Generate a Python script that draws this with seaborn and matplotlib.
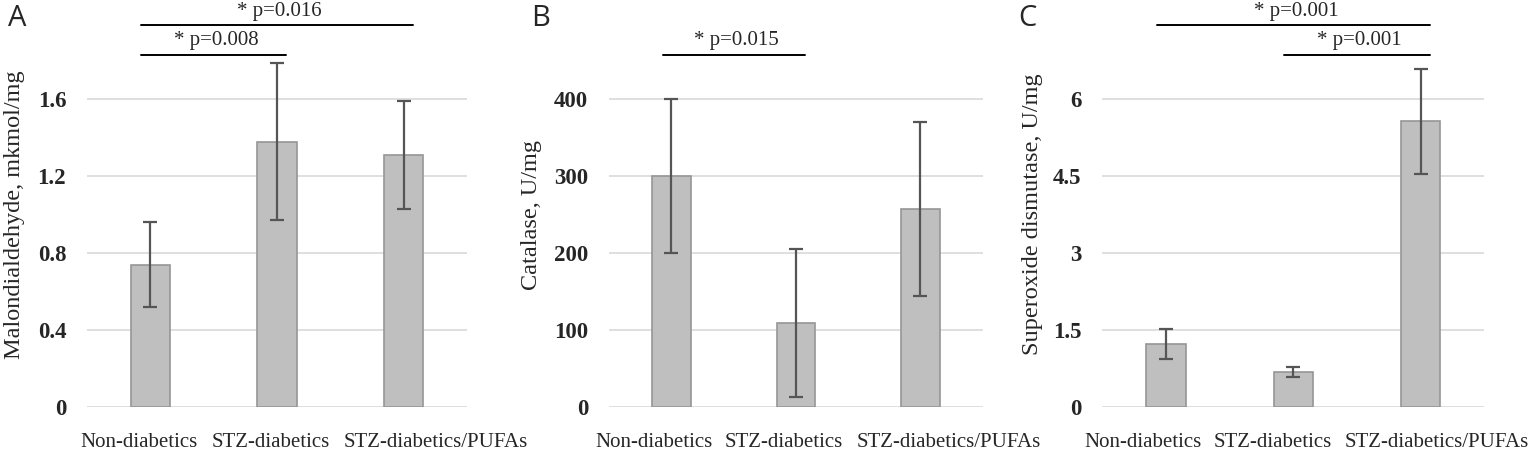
import numpy as np
import pandas as pd
import matplotlib
matplotlib.use("Agg")
import matplotlib.pyplot as plt
import matplotlib.transforms as mtransforms
import seaborn as sns

# groups and values (mean, error)
groups = ["Non-diabetics", "STZ-diabetics", "STZ-diabetics/PUFAs"]
mda_mean = [0.74, 1.38, 1.31]
mda_err = [0.22, 0.41, 0.28]
cat_mean = [300, 109, 257]
cat_err = [100, 96, 113]
sod_mean = [1.22, 0.68, 5.57]
sod_err = [0.29, 0.10, 1.03]

sns.set_theme(style="white")
plt.rcParams['font.family'] = ['Liberation Serif', 'DejaVu Serif']

fig = plt.figure(figsize=(15.35, 4.55), dpi=100)

bottom = 48.3 / 455
height = 384.2 / 455
axes_px = [(87, 380), (609, 373.7), (1102.3, 382)]

panels = [
    ("A", "Malondialdehyde, mkmol/mg", mda_mean, mda_err, 2.0, [0, 0.4, 0.8, 1.2, 1.6], ["0", "0.4", "0.8", "1.2", "1.6"]),
    ("B", "Catalase, U/mg", cat_mean, cat_err, 500, [0, 100, 200, 300, 400], ["0", "100", "200", "300", "400"]),
    ("C", "Superoxide dismutase, U/mg", sod_mean, sod_err, 7.5, [0, 1.5, 3, 4.5, 6], ["0", "1.5", "3", "4.5", "6"]),
]

# significance brackets: (from group, to group, height, label, label height)
sig_A = [(0, 2, 1.985, "* p=0.016", 2.055), (0, 1, 1.829, "* p=0.008", 1.905)]
sig_B = [(0, 1, 457.6, "* p=0.015", 476)]
sig_C = [(0, 2, 7.45, "* p=0.001", 7.71), (1, 2, 6.87, "* p=0.001", 7.15)]
sigs = [sig_A, sig_B, sig_C]
label_x = [-0.163, -0.179, -0.155]
letter_x = [8, 531, 1018]
# the category labels sit a bit off the bar centres, like in the original
label_shift = [[-11, -6, 32], [-17, -12, 28], [-23, -21, 16]]

for i, (letter, ylab, mean, err, ymax, ticks, ticklabels) in enumerate(panels):
    left, w = axes_px[i]
    ax = fig.add_axes([left / 1535, bottom, w / 1535, height])
    df = pd.DataFrame({"group": groups, "value": mean})
    sns.barplot(data=df, x="group", y="value", ax=ax, color="#bfbfbf",
                edgecolor="#969696", linewidth=1.2, width=0.31,
                saturation=1, errorbar=None)
    ax.errorbar(np.arange(3), mean, yerr=err, fmt="none", ecolor="#555555",
                elinewidth=1.6, capsize=5, capthick=1.6, clip_on=False, zorder=5)
    ax.set_xlim(-0.5, 2.5)
    ax.set_ylim(0, ymax)
    ax.set_yticks(ticks)
    ax.set_yticklabels(ticklabels, fontsize=16.5, fontweight="bold")
    for t in ticks:
        ax.axhline(t, color="#d9d9d9", linewidth=1.2, zorder=0)
    ax.tick_params(axis="y", length=0, pad=15)
    ax.tick_params(axis="x", length=0, pad=19, labelsize=15)
    for lab, dx in zip(ax.get_xticklabels(), label_shift[i]):
        lab.set_transform(lab.get_transform() +
                          mtransforms.ScaledTranslation(dx / 100, 0, fig.dpi_scale_trans))
    ax.set_xlabel("")
    ax.set_ylabel(ylab, fontsize=17.5)
    ax.yaxis.set_label_coords(label_x[i], 0.5)
    for s in ax.spines.values():
        s.set_visible(False)
    ax.set_axisbelow(True)

    for g0, g1, yl, txt, yt in sigs[i]:
        x0 = g0 - 0.07
        x1 = g1 + 0.07
        ax.plot([x0, x1], [yl, yl], color="black", linewidth=1.4, clip_on=False)
        ax.text((x0 + x1) / 2 + 0.02, yt, txt, ha="center", va="center",
                fontsize=15, clip_on=False)

    fig.text(letter_x[i] / 1535, 1 - 4 / 455, letter, ha="left", va="top",
             fontsize=21, family=["Open Sans", "DejaVu Sans"])

fig.savefig("out.png", dpi=100)
